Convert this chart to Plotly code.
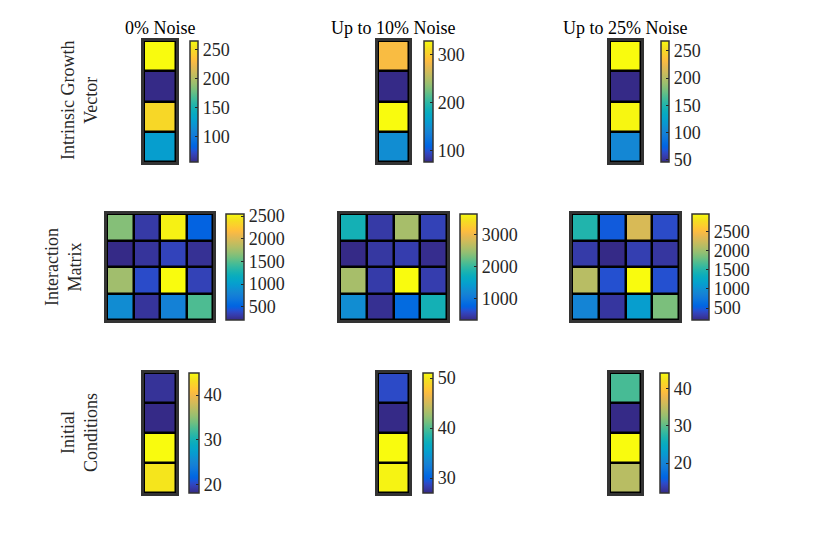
import plotly.graph_objects as go

# colunas e linhas
titulos = ["0% Noise", "Up to 10% Noise", "Up to 25% Noise"]
rotulos_linhas = ["Intrinsic Growth<br>Vector", "Interaction<br>Matrix", "Initial<br>Conditions"]

# vetor de crescimento intrinseco (4x1)
cresc_0 = [265, 57, 248, 128]
cresc_10 = [286, 77, 329, 148]
cresc_25 = [268, 46, 266, 104]

# matriz de interacao (4x4)
inter_0 = [[1650, 300, 2500, 510],
           [210, 270, 360, 250],
           [1750, 400, 2545, 350],
           [860, 270, 770, 1470]]
inter_10 = [[1800, 470, 2560, 540],
            [340, 450, 500, 370],
            [2560, 480, 3650, 500],
            [1270, 390, 840, 1800]]
inter_25 = [[1490, 490, 2300, 410],
            [300, 185, 330, 270],
            [2135, 435, 2970, 435],
            [880, 270, 1130, 1860]]

# condicoes iniciais (4x1)
cond_0 = [18.8, 18.2, 44.9, 43.7]
cond_10 = [28.9, 27.0, 51.0, 50.6]
cond_25 = [29.1, 11.9, 44.3, 34.6]

# ticks das barras de cor
ticks = [
    [[100, 150, 200, 250], [100, 200, 300], [50, 100, 150, 200, 250]],
    [[500, 1000, 1500, 2000, 2500], [1000, 2000, 3000], [500, 1000, 1500, 2000, 2500]],
    [[20, 30, 40], [30, 40, 50], [20, 30, 40]],
]

dados = [
    [[[v] for v in cresc_0], [[v] for v in cresc_10], [[v] for v in cresc_25]],
    [inter_0, inter_10, inter_25],
    [[[v] for v in cond_0], [[v] for v in cond_10], [[v] for v in cond_25]],
]

# mapa parula (matlab, 64 cores)
parula_rgb = [
    (0.2081, 0.1663, 0.5292), (0.2116, 0.1898, 0.5777), (0.2123, 0.2138, 0.6270), (0.2081, 0.2386, 0.6771),
    (0.1959, 0.2645, 0.7279), (0.1707, 0.2919, 0.7792), (0.1253, 0.3242, 0.8303), (0.0591, 0.3598, 0.8683),
    (0.0117, 0.3875, 0.8820), (0.0060, 0.4086, 0.8828), (0.0165, 0.4266, 0.8786), (0.0329, 0.4430, 0.8720),
    (0.0498, 0.4586, 0.8641), (0.0629, 0.4737, 0.8554), (0.0723, 0.4887, 0.8467), (0.0779, 0.5040, 0.8384),
    (0.0793, 0.5200, 0.8312), (0.0749, 0.5375, 0.8263), (0.0641, 0.5570, 0.8240), (0.0488, 0.5772, 0.8228),
    (0.0343, 0.5966, 0.8199), (0.0265, 0.6137, 0.8135), (0.0239, 0.6287, 0.8038), (0.0231, 0.6418, 0.7913),
    (0.0228, 0.6535, 0.7768), (0.0267, 0.6642, 0.7607), (0.0384, 0.6743, 0.7436), (0.0590, 0.6838, 0.7254),
    (0.0843, 0.6928, 0.7062), (0.1133, 0.7015, 0.6859), (0.1453, 0.7098, 0.6646), (0.1801, 0.7177, 0.6424),
    (0.2178, 0.7250, 0.6193), (0.2586, 0.7317, 0.5954), (0.3022, 0.7376, 0.5712), (0.3482, 0.7424, 0.5473),
    (0.3953, 0.7459, 0.5244), (0.4420, 0.7481, 0.5033), (0.4871, 0.7491, 0.4840), (0.5300, 0.7491, 0.4661),
    (0.5709, 0.7485, 0.4494), (0.6099, 0.7473, 0.4337), (0.6473, 0.7456, 0.4188), (0.6834, 0.7435, 0.4044),
    (0.7184, 0.7411, 0.3905), (0.7525, 0.7384, 0.3768), (0.7858, 0.7356, 0.3633), (0.8185, 0.7327, 0.3498),
    (0.8507, 0.7299, 0.3360), (0.8824, 0.7274, 0.3217), (0.9139, 0.7258, 0.3063), (0.9450, 0.7261, 0.2886),
    (0.9739, 0.7314, 0.2666), (0.9938, 0.7455, 0.2403), (0.9990, 0.7653, 0.2164), (0.9955, 0.7861, 0.1967),
    (0.9880, 0.8066, 0.1794), (0.9789, 0.8271, 0.1633), (0.9697, 0.8481, 0.1475), (0.9626, 0.8705, 0.1309),
    (0.9589, 0.8949, 0.1132), (0.9598, 0.9218, 0.0948), (0.9661, 0.9514, 0.0755), (0.9763, 0.9831, 0.0538),
]
parula = [[i / 63, "rgb(%d,%d,%d)" % tuple(round(c * 255) for c in rgb)] for i, rgb in enumerate(parula_rgb)]

# a pagina tem margem de 8px, entao desconto isso
OFF = 8
W, H = 830 - OFF, 554 - OFF
def px_x(x):
    return (x - OFF) / W
def px_y(y):
    return 1 - (y - OFF) / H

fonte = dict(family="Liberation Serif, Times New Roman, serif", size=18, color="#262626")

# posicoes em pixels (na imagem)
lin_y = [(41, 162), (214, 320), (373, 493)]
caixa_x = [
    [(144, 176), (378, 409), (610, 641)],
    [(107, 213), (340, 447), (572, 679)],
    [(144, 176), (378, 409), (610, 641)],
]
barra_x = [
    [(190, 198), (424, 433), (661, 669)],
    [(226, 244), (460, 477), (692, 709)],
    [(189, 199), (423, 433), (660, 669)],
]

fig = go.Figure()
layout = {}
k = 0
for i in range(3):
    y0, y1 = lin_y[i]
    for j in range(3):
        k += 1
        z = dados[i][j]
        ncol = len(z[0])
        x0, x1 = caixa_x[i][j]
        b0, b1 = barra_x[i][j]
        sx = "" if k == 1 else str(k)
        fig.add_trace(go.Heatmap(
            z=z, colorscale=parula, xgap=2.5, ygap=2.5,
            xaxis="x" + sx, yaxis="y" + sx,
            colorbar=dict(
                x=px_x(b0), xanchor="left", thickness=b1 - b0, thicknessmode="pixels",
                y=px_y((y0 + y1) / 2), yanchor="middle",
                len=(y1 - y0) / H, lenmode="fraction",
                xpad=0, ypad=0, outlinewidth=1.5, outlinecolor="#333333",
                ticks="inside", ticklen=3, tickcolor="#262626",
                tickvals=ticks[i][j], tickfont=fonte,
            ),
        ))
        layout["xaxis" + sx] = dict(
            domain=[px_x(x0), px_x(x1)], range=[-0.5, ncol - 0.5], showticklabels=False,
            ticks="", showgrid=False, zeroline=False, showline=True, mirror=True,
            linecolor="#333333", linewidth=2.5, anchor="y" + sx,
        )
        layout["yaxis" + sx] = dict(
            domain=[px_y(y1), px_y(y0)], range=[3.5, -0.5], showticklabels=False,
            ticks="", showgrid=False, zeroline=False, showline=True, mirror=True,
            linecolor="#333333", linewidth=2.5, anchor="x" + sx,
        )

anotacoes = []
centros_col = [160, 393.5, 625.5]
for j in range(3):
    anotacoes.append(dict(
        text=titulos[j], x=px_x(centros_col[j]), y=px_y(28), xref="paper", yref="paper",
        showarrow=False, font=dict(fonte, color="black"), xanchor="center", yanchor="middle",
    ))
pos_rot = [(79, 101), (63, 267), (79, 433)]
for i in range(3):
    anotacoes.append(dict(
        text=rotulos_linhas[i], x=px_x(pos_rot[i][0]), y=px_y(pos_rot[i][1]),
        xref="paper", yref="paper", showarrow=False, textangle=-90,
        font=dict(fonte, color="#262626"), xanchor="center", yanchor="middle",
    ))

fig.update_layout(
    **layout,
    annotations=anotacoes,
    width=W, height=H,
    margin=dict(l=0, r=0, t=0, b=0),
    paper_bgcolor="white", plot_bgcolor="black",
    font=fonte,
    showlegend=False,
)

fig.write_html("out.html")
